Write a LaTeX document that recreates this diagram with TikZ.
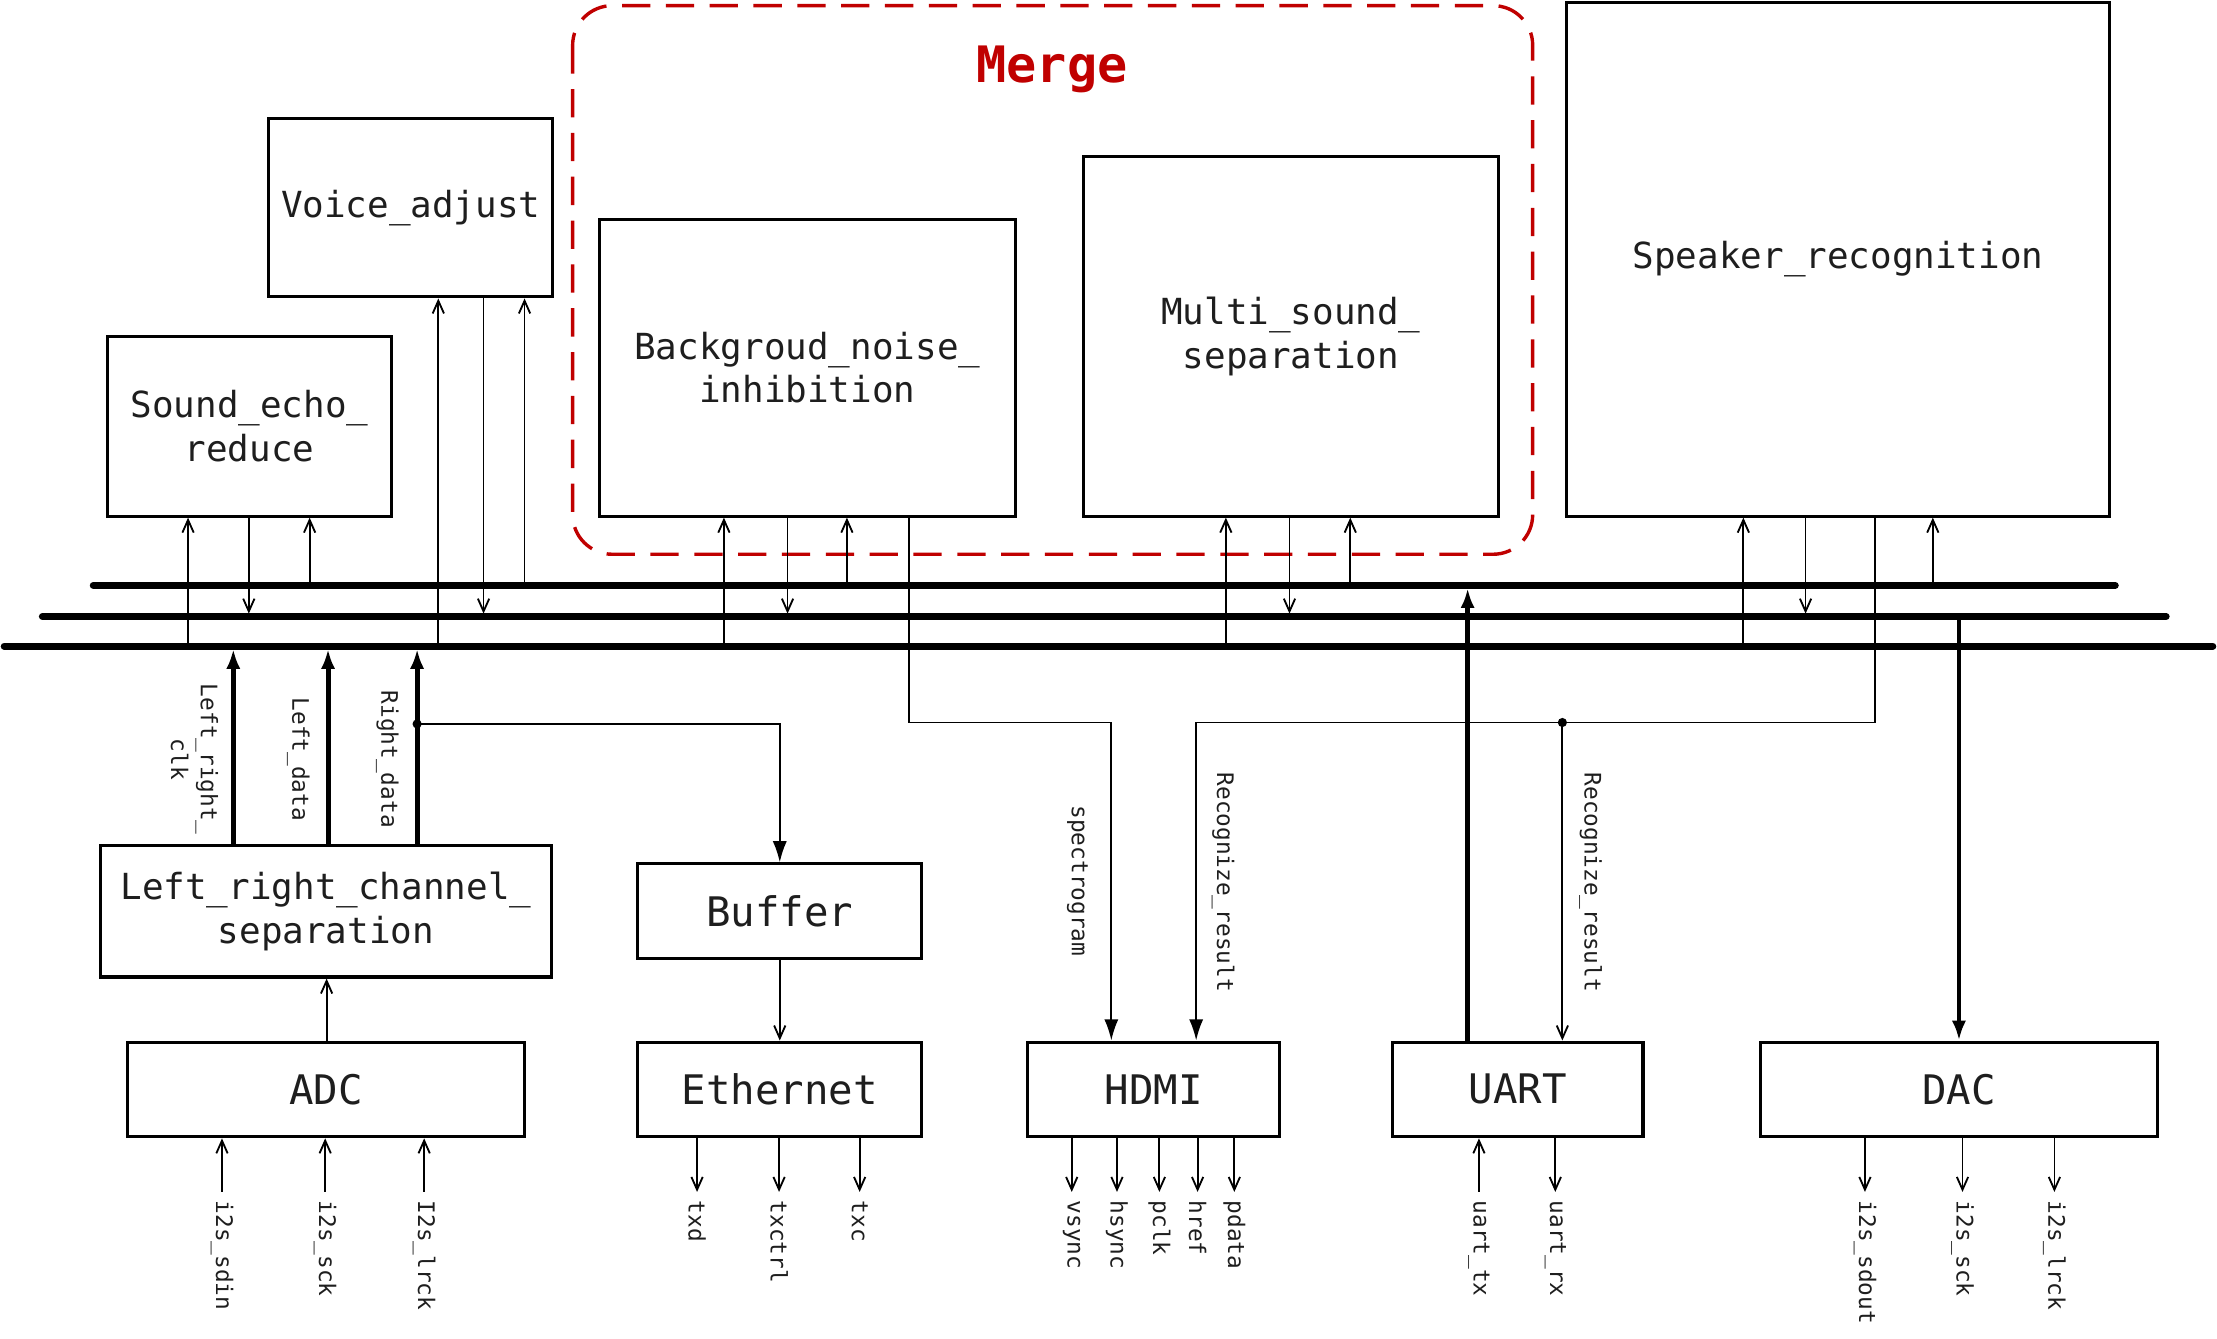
\documentclass[tikz,border=0pt]{standalone}
\usepackage{fontspec}
\usetikzlibrary{arrows.meta}
\newfontfamily\dvm{DejaVu Sans Mono}
\newcommand\fbx{\dvm\fontsize{25.4}{31}\selectfont}
\newcommand\fbig{\dvm\fontsize{28.8}{34}\selectfont}
\newcommand\flab{\dvm\fontsize{16.1}{21}\selectfont}
\newcommand\fmrg{\dvm\bfseries\fontsize{35.5}{40}\selectfont}
\definecolor{txt}{HTML}{1E1E1E}
\definecolor{mred}{HTML}{C00000}
\begin{document}
\begin{tikzpicture}[x=1pt,y=-1pt,
  blk/.style={draw, line width=2.2pt, inner sep=0pt, align=center, text=txt, font=\fbx},
  bigblk/.style={blk, font=\fbig},
  bus/.style={line width=5pt, line cap=round},
  thinarr/.style={line width=1.3pt, -{Straight Barb[length=9pt,width=8pt,line width=1.3pt]}},
  thinln/.style={line width=1.3pt},
  thinfill/.style={line width=1.3pt, -{Latex[length=15pt,width=10pt]}},
  thickarr/.style={line width=3.5pt, -{Latex[length=14pt,width=10pt]}},
  lab/.style={font=\flab, text=txt, rotate=-90, inner sep=0pt, align=center},
  iolab/.style={lab, anchor=west, inner sep=6pt},
  dot/.style={circle, fill, inner sep=0pt, minimum size=6.5pt}
]
\fill[white] (0,0) rectangle (1568,947);
\useasboundingbox (0,0) rectangle (1568,947);

% Merge group
\draw[mred, line width=2.4pt, dash pattern=on 20pt off 11pt, rounded corners=28pt]
  (405,4) rectangle (1084,392);
\node[font=\fmrg, text=mred] (merge) at (744,49) {Merge};

% top blocks
\node[blk, minimum width=201pt, minimum height=127pt] (ser) at (176.5,301.5) {Sound\_echo\_\\reduce};
\node[blk, minimum width=201pt, minimum height=126pt] (va) at (290.5,147) {Voice\_adjust};
\node[blk, minimum width=294pt, minimum height=210pt] (bni) at (571,260) {Backgroud\_noise\_\\inhibition};
\node[blk, minimum width=294pt, minimum height=254pt] (mss) at (913,238) {Multi\_sound\_\\separation};
\node[blk, minimum width=384pt, minimum height=363pt] (sr) at (1300,183.5) {Speaker\_recognition};

% bottom blocks
\node[blk, minimum width=319pt, minimum height=93pt] (lrcs) at (230.5,644.5) {Left\_right\_channel\_\\separation};
\node[bigblk, minimum width=201pt, minimum height=67pt] (buf) at (551.5,644.5) {Buffer};
\node[bigblk, minimum width=281pt, minimum height=67pt] (adc) at (230.5,770.5) {ADC};
\node[bigblk, minimum width=201pt, minimum height=67pt] (eth) at (551.5,770.5) {Ethernet};
\node[bigblk, minimum width=178pt, minimum height=67pt] (hdmi) at (816,770.5) {HDMI};
\node[bigblk, minimum width=177pt, minimum height=67pt] (uart) at (1073.5,770.5) {UART};
\node[bigblk, minimum width=281pt, minimum height=67pt] (dac) at (1385.5,770.5) {DAC};

% buses
\coordinate (b1) at (0,414);
\coordinate (b2) at (0,436);
\coordinate (b3) at (0,457);
\coordinate (b1l) at (66,414);  \coordinate (b1r) at (1496,414);
\coordinate (b2l) at (30,436);  \coordinate (b2r) at (1532,436);
\coordinate (b3l) at (3,457);   \coordinate (b3r) at (1565,457);
\draw[bus] (b1l) -- (b1r);
\draw[bus] (b2l) -- (b2r);
\draw[bus] (b3l) -- (b3r);

% bus <-> block connectors
\newcommand\busup[3]{\path (#1,0) coordinate (vx); \draw[thinarr] (vx |- #2) -- (vx |- #3);}
\newcommand\busdn[3]{\path (#1,0) coordinate (vx); \draw[thinarr, shorten >=2pt] (vx |- #2) -- (vx |- #3);}
\busup{133}{b3}{ser.south}
\busdn{176}{ser.south}{b2}
\busup{219}{b1}{ser.south}
\busup{310}{b3}{va.south}
\busdn{342}{va.south}{b2}
\busup{371}{b1}{va.south}
\busup{512}{b3}{bni.south}
\busdn{557}{bni.south}{b2}
\busup{599}{b1}{bni.south}
\busup{867}{b3}{mss.south}
\busdn{912}{mss.south}{b2}
\busup{955}{b1}{mss.south}
\busup{1233}{b3}{sr.south}
\busdn{1277}{sr.south}{b2}
\busup{1367}{b1}{sr.south}

% LRCS -> bus3 thick
\foreach \xx/\nm in {165/a,232/b,295/c}{
  \path (\xx,0) coordinate (t\nm);
  \draw[thickarr, shorten >=2pt] (t\nm |- lrcs.north) -- (t\nm |- b3);
}
\node[lab] (l1) at (137.5,537) {Left\_right\_\\clk};
\node[lab] (l2) at (211,537) {Left\_data};
\node[lab] (l3) at (274,537) {Right\_data};

% Right_data -> Buffer
\node[dot] (j1) at (295,512) {};
\draw[thinfill] (j1.center) -| (buf.north);
\draw[thinarr] (buf.south) -- (eth.north);
\path (231,0) coordinate (ax);
\draw[thinarr] (ax |- adc.north) -- (ax |- lrcs.south);

% spectrogram
\path (643,0) coordinate (sx);
\coordinate (sy) at (786,511);
\draw[thinfill] (sx |- bni.south) |- (sy) -- (sy |- hdmi.north);
\node[lab] (l4) at (762,623) {spectrogram};

% Recognize_result
\path (1326,0) coordinate (rx);
\path (846,0) coordinate (hx);
\node[dot] (j2) at (1105,511) {};
\draw[thinfill] (rx |- sr.south) |- (hx |- j2) -- (hx |- hdmi.north);
\draw[thinarr] (j2.center) -- (j2 |- uart.north);
\node[lab] (l5) at (865,624) {Recognize\_result};
\node[lab] (l6) at (1125,624) {Recognize\_result};

% UART -> bus1 thick, bus2 -> DAC thick
\path (1038,0) coordinate (ux);
\draw[thickarr, shorten >=2pt] (ux |- uart.north) -- (ux |- b1);
\draw[thickarr] (dac.north |- b2) -- (dac.north);

% I/O signals
\foreach \xx/\tt in {157/i2s\_sdin,230/i2s\_sck,300/I2s\_lrck}{
  \node[iolab] (io) at (\xx,843) {\tt};
  \draw[thinarr] (io.west) -- (io.west |- adc.south);
}
\foreach \xx/\tt in {493/txd,551/txctrl,608/txc}{
  \node[iolab] (io) at (\xx,843) {\tt};
  \draw[thinarr] (io.west |- eth.south) -- (io.west);
}
\foreach \xx/\tt in {758/vsync,790/hsync,820/pclk,847/href,873/pdata}{
  \node[iolab] (io) at (\xx,843) {\tt};
  \draw[thinarr] (io.west |- hdmi.south) -- (io.west);
}
\node[iolab] (utx) at (1046,843) {uart\_tx};
\draw[thinarr] (utx.west) -- (utx.west |- uart.south);
\node[iolab] (urx) at (1100,843) {uart\_rx};
\draw[thinarr] (urx.west |- uart.south) -- (urx.west);
\foreach \xx/\tt in {1319/i2s\_sdout,1388/i2s\_sck,1453/i2s\_lrck}{
  \node[iolab] (io) at (\xx,843) {\tt};
  \draw[thinarr] (io.west |- dac.south) -- (io.west);
}
\end{tikzpicture}
\end{document}
